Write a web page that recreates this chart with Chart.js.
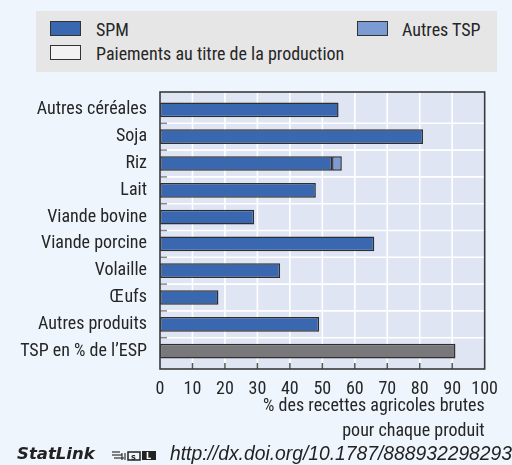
<!DOCTYPE html>
<html><head><meta charset="utf-8">
<script src="https://cdn.jsdelivr.net/npm/chart.js@4/dist/chart.umd.min.js"></script>
<style>
html,body{margin:0;padding:0;background:#eef5fd;}
#wrap{position:relative;width:512px;height:465px;overflow:hidden;font-family:'Roboto Condensed','Liberation Sans',Arial,sans-serif;color:#262626;}
#c{position:absolute;left:0;top:0;}
#legend{position:absolute;left:36px;top:11px;width:461px;height:61px;background:#e6e6e6;}
.sw{position:absolute;width:31px;height:15px;border:1.5px solid #333;box-sizing:border-box;}
.lt{position:absolute;font-size:18px;line-height:18px;white-space:nowrap;}
#statlink{position:absolute;left:17px;top:444px;height:20px;white-space:nowrap;}
#sl1{position:absolute;left:0;top:0;font-family:'DejaVu Sans',sans-serif;font-weight:bold;font-style:italic;font-size:16.5px;color:#222;}
#sl2{position:absolute;left:153px;top:-1px;font-family:'Liberation Sans',Arial,sans-serif;font-style:italic;font-size:19.3px;color:#222;}
#icon{position:absolute;left:95px;top:6px;}
</style></head>
<body>
<div id="wrap">
<canvas id="c" width="512" height="465"></canvas>
<div id="legend">
  <div class="sw" style="left:14px;top:10px;background:#3a68b0"></div>
  <div class="lt" style="left:60px;top:10px">SPM</div>
  <div class="sw" style="left:321px;top:10px;background:#7b9bd2"></div>
  <div class="lt" style="left:366px;top:10px">Autres TSP</div>
  <div class="sw" style="left:14px;top:34px;background:#f2f2f2"></div>
  <div class="lt" style="left:60px;top:34px">Paiements au titre de la production</div>
</div>
<div id="statlink">
  <span id="sl1">StatLink</span>
  <svg id="icon" width="45" height="11" viewBox="0 0 45 11">
    <g stroke="#333" stroke-width="1.2">
      <line x1="0" y1="2" x2="8" y2="2"/><line x1="0" y1="5" x2="10" y2="5"/><line x1="2" y1="8" x2="12" y2="8"/>
      <line x1="10" y1="3" x2="10" y2="10"/><line x1="13" y1="3" x2="13" y2="10"/>
    </g>
    <rect x="16" y="2" width="12" height="8" fill="none" stroke="#222" stroke-width="1.5"/>
    <text x="19" y="9.5" font-size="8" font-family="DejaVu Sans" font-weight="bold" fill="#222">s</text>
    <rect x="30" y="1" width="14" height="9" fill="#222"/>
    <text x="34" y="9" font-size="8" font-family="DejaVu Sans" font-weight="bold" fill="#fff">L</text>
  </svg>
  <span id="sl2">http://dx.doi.org/10.1787/888932298293</span>
</div>
</div>
<script>
const categories = ["Autres céréales","Soja","Riz","Lait","Viande bovine","Viande porcine","Volaille","Œufs","Autres produits","TSP en % de l’ESP"];
const spm        = [55, 81, 53, 48, 29, 66, 37, 18, 49, null];
const paiements  = [0, 0, 0, 0, 0, 0, 0, 0, 0, null];
const autresTsp  = [0, 0, 3, 0, 0, 0, 0, 0, 0, null];
const tspEsp     = [null, null, null, null, null, null, null, null, null, 91];
const xTicks     = [0,10,20,30,40,50,60,70,80,90,100];
const xTitle     = ["% des recettes agricoles brutes", "pour chaque produit"];

const FONT = "'Roboto Condensed','Liberation Sans',Arial,sans-serif";
const TXT = '#262626';

const plotDeco = {
  id: 'plotDeco',
  beforeDatasetsDraw(chart) {
    const {ctx, chartArea: a, scales: {x, y}} = chart;
    const top = a.top - 4.5, bot = a.bottom + 4.5;
    ctx.save();
    ctx.fillStyle = '#dfe5f3';
    ctx.fillRect(a.left, top, a.right - a.left, bot - top);
    ctx.strokeStyle = '#ffffff';
    ctx.lineWidth = 1.6;
    xTicks.slice(1, -1).forEach(v => {
      const px = x.getPixelForValue(v);
      ctx.beginPath(); ctx.moveTo(px, top); ctx.lineTo(px, bot); ctx.stroke();
    });
    for (let i = 0; i < categories.length - 1; i++) {
      const py = (y.getPixelForValue(i) + y.getPixelForValue(i + 1)) / 2;
      ctx.beginPath(); ctx.moveTo(a.left, py); ctx.lineTo(a.right, py); ctx.stroke();
    }
    ctx.restore();
  },
  afterDatasetsDraw(chart) {
    const {ctx, chartArea: a, scales: {x, y}} = chart;
    const top = a.top - 4.5, bot = a.bottom + 4.5;
    ctx.save();
    ctx.strokeStyle = '#888';
    ctx.lineWidth = 1.5;
    for (let i = 0; i < categories.length - 1; i++) {
      const py = (y.getPixelForValue(i) + y.getPixelForValue(i + 1)) / 2;
      ctx.beginPath(); ctx.moveTo(a.left, py); ctx.lineTo(a.left + 7, py); ctx.stroke();
    }
    ctx.strokeStyle = '#555';
    xTicks.slice(1, -1).forEach(v => {
      const px = x.getPixelForValue(v);
      ctx.beginPath(); ctx.moveTo(px, bot); ctx.lineTo(px, bot - 6); ctx.stroke();
    });
    ctx.strokeStyle = '#3a3a3a';
    ctx.lineWidth = 1.6;
    ctx.strokeRect(a.left, top, a.right - a.left, bot - top);
    ctx.restore();
  }
};

const common = {borderColor: '#2e2e2e', borderWidth: 1.5, borderSkipped: false, categoryPercentage: 1, barPercentage: 0.55};

new Chart(document.getElementById('c'), {
  type: 'bar',
  data: {
    labels: categories,
    datasets: [
      Object.assign({label: 'SPM', data: spm, backgroundColor: '#3a68b0'}, common),
      Object.assign({label: 'Paiements au titre de la production', data: paiements, backgroundColor: '#f2f2f2'}, common, {borderWidth: 0}),
      Object.assign({label: 'Autres TSP', data: autresTsp, backgroundColor: '#7b9bd2'}, common),
      Object.assign({label: 'TSP en % de l’ESP', data: tspEsp, backgroundColor: '#78787a'}, common)
    ]
  },
  options: {
    indexAxis: 'y',
    responsive: false,
    animation: false,
    events: [],
    layout: {padding: {top: 96.5, right: 15.5, left: 0, bottom: 0}},
    plugins: {legend: {display: false}, tooltip: {enabled: false}},
    scales: {
      y: {
        stacked: true,
        grid: {display: false, drawTicks: false},
        border: {display: false},
        ticks: {color: TXT, font: {family: FONT, size: 18}, padding: 13},
        afterFit(s) { s.width = 160; }
      },
      x: {
        stacked: true,
        min: 0, max: 100,
        grid: {display: false, drawTicks: false},
        border: {display: false},
        ticks: {stepSize: 10, maxRotation: 0, minRotation: 0, color: TXT, font: {family: FONT, size: 18}, padding: 14},
        title: {display: true, text: xTitle, align: 'end', color: TXT,
                font: {family: FONT, size: 18, lineHeight: 1.39}, padding: {top: 0, bottom: 20.5}},
        afterFit(s) { s.height = 100.5; }
      }
    }
  },
  plugins: [plotDeco]
});
</script>
</body></html>
